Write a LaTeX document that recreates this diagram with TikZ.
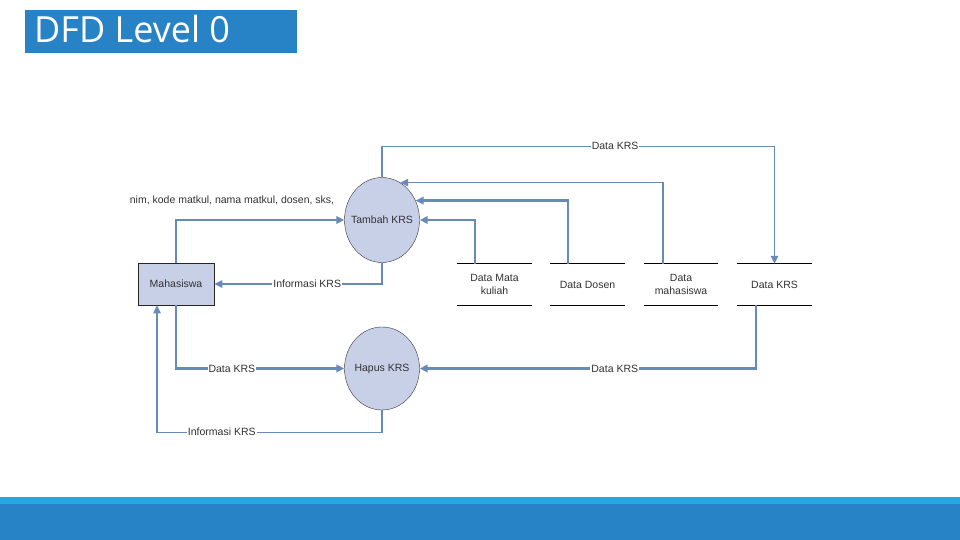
\documentclass[tikz,border=0pt]{standalone}
\usepackage{fontspec}
\setmainfont{Liberation Sans}
\newfontfamily\judulfont{Open Sans}
\usetikzlibrary{arrows.meta, shapes.geometric}
\definecolor{biru}{RGB}{39,131,198}
\definecolor{birumuda}{RGB}{34,170,222}
\definecolor{garis}{RGB}{104,138,182}
\definecolor{isi}{RGB}{200,208,232}
\definecolor{teks}{RGB}{50,50,50}

\begin{document}
\begin{tikzpicture}[x=1pt, y=-1pt,
  font=\fontsize{10.5}{12.5}\selectfont,
  proses/.style={ellipse, draw=black!80, fill=isi, minimum width=75pt,
                 minimum height=85pt, inner sep=0pt,
                 label={[text=teks]center:#1}},
  entitas/.style={draw=black!85, fill=isi, minimum width=76pt,
                  minimum height=42pt, text=teks, line width=0.8pt},
  simpan/.style={minimum width=75pt, minimum height=41pt, align=center,
                 text=teks, inner sep=0pt},
  alir/.style={draw=garis, line width=1.4pt, -{Triangle[length=8pt, width=7.5pt]}},
  alirtebal/.style={alir, line width=2.5pt},
  ket/.style={fill=white, inner sep=1pt, text=teks}]
  \useasboundingbox (0,0) rectangle (960,540);
  % judul dan pita bawah
  \fill[biru] (25,10) rectangle (297,53);
  \node[anchor=base west, text=white, inner sep=0pt,
        font=\judulfont\fontsize{36}{40}\selectfont] (judul) at (34,43) {DFD Level 0};
  \fill[birumuda] (0,497) rectangle (960,504);
  \fill[biru] (0,504) rectangle (960,540);
  % entitas dan proses
  \node[entitas] (mhs) at (176,284) {Mahasiswa};
  \node[proses=Tambah KRS] (tambah) at (382,220) {};
  \node[proses=Hapus KRS, minimum height=83pt] (hapus) at (382,368.5) {};
  % data store
  \node[simpan] (dsmk) at (494.5,284.5) {Data Mata\\kuliah};
  \node[simpan] (dsdosen) at (587.5,284.5) {Data Dosen};
  \node[simpan, minimum width=74pt] (dsmhs) at (681,284.5) {Data\\mahasiswa};
  \node[simpan] (dskrs) at (774.5,284.5) {Data KRS};
  \foreach \s in {dsmk, dsdosen, dsmhs, dskrs}
    \draw[line width=0.9pt] (\s.north west) -- (\s.north east)
                            (\s.south west) -- (\s.south east);
  % aliran data
  \draw[alir] (tambah.north) -- ++(0,-31) -| node[ket, pos=0.297] {Data KRS} (dskrs.north);
  \draw[alir] ([xshift=-18pt]dsmhs.north) |- (tambah.64);
  \draw[alirtebal] ([xshift=-19.5pt]dsdosen.north) |- (tambah.30);
  \draw[alirtebal] ([xshift=-19.5pt]dsmk.north) |- (tambah.east);
  \draw[alirtebal] (mhs.north) |- (tambah.west);
  \node[text=teks] (ketnim) at (232,200) {nim, kode matkul, nama matkul, dosen, sks,};
  \draw[alir] (tambah.south) |- node[ket, pos=0.723] {Informasi KRS} (mhs.east);
  \draw[alirtebal] (mhs.south) |- node[ket, pos=0.666] {Data KRS} (hapus.west);
  \draw[alir] (hapus.south) -- ++(0,22) -| node[ket, pos=0.356] {Informasi KRS}
    ([xshift=-19pt]mhs.south);
  \draw[alirtebal] ([xshift=-18.5pt]dskrs.south) |- node[ket, pos=0.71] {Data KRS} (hapus.east);
\end{tikzpicture}
\end{document}
